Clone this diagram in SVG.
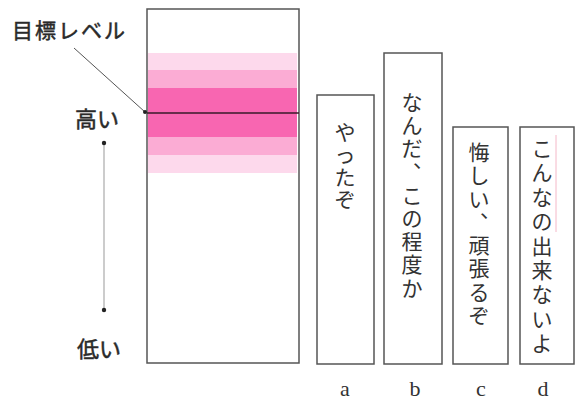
<svg xmlns="http://www.w3.org/2000/svg" width="576" height="403" viewBox="0 0 576 403">
<style>
.box{fill:#fff;stroke:#555;stroke-width:1.5}
.jp{font-family:"Noto Sans CJK JP","Noto Sans CJK SC",sans-serif;fill:#2a2a2a;stroke:#2a2a2a;stroke-width:0.5}
.vt{font-family:"Noto Sans CJK JP","Noto Sans CJK SC",sans-serif;fill:#333;font-size:21px;text-anchor:middle}
.lbl{font-family:"Liberation Serif",serif;font-size:22px;fill:#333;text-anchor:middle}
</style>
<rect width="576" height="403" fill="#fff"/>
<g id="main">
<rect class="box" x="147" y="9" width="152" height="354"/>
<rect x="148" y="53" width="149" height="120" fill="#fdd9ec"/>
<rect x="148" y="70" width="149" height="85" fill="#fbacd4"/>
<rect x="148" y="88" width="149" height="49" fill="#f866b1"/>
<line x1="147" y1="113" x2="299" y2="113" stroke="#3a1a2a" stroke-width="1.5"/>
</g>
<g id="connectors">
<line x1="74" y1="48" x2="145" y2="112" stroke="#555" stroke-width="1"/>
<circle cx="145" cy="112" r="2" fill="#222"/>
<line x1="104" y1="143" x2="104" y2="310" stroke="#999" stroke-width="1"/>
<circle cx="104" cy="143" r="2.2" fill="#222"/>
<circle cx="104" cy="310" r="2.2" fill="#222"/>
</g>
<g id="labels">
<text class="jp" x="12" y="38" font-size="21" letter-spacing="2">目標レベル</text>
<text class="jp" x="75" y="127" font-size="22">高い</text>
<text class="jp" x="77" y="357" font-size="22">低い</text>
</g>
<g id="a">
<rect class="box" x="317" y="95" width="57" height="269"/>
<text class="vt"><tspan x="345" y="139.5">や</tspan><tspan x="345" y="162">っ</tspan><tspan x="345" y="184.5">た</tspan><tspan x="345" y="207">ぞ</tspan></text>
<text class="lbl" x="345" y="396">a</text>
</g>
<g id="b">
<rect class="box" x="384" y="53" width="58" height="311"/>
<text class="vt"><tspan x="412" y="110">な</tspan><tspan x="412" y="133">ん</tspan><tspan x="412" y="156">だ</tspan><tspan x="423.5" y="167">、</tspan><tspan x="412" y="203">こ</tspan><tspan x="412" y="226">の</tspan><tspan x="412" y="249">程</tspan><tspan x="412" y="272">度</tspan><tspan x="412" y="296">か</tspan></text>
<text class="lbl" x="415" y="396">b</text>
</g>
<g id="c">
<rect class="box" x="453" y="127" width="55" height="237"/>
<text class="vt"><tspan x="479" y="160">悔</tspan><tspan x="479" y="183">し</tspan><tspan x="479" y="207">い</tspan><tspan x="490.5" y="217">、</tspan><tspan x="479" y="253">頑</tspan><tspan x="479" y="276">張</tspan><tspan x="479" y="300">る</tspan><tspan x="479" y="323">ぞ</tspan></text>
<text class="lbl" x="481" y="396">c</text>
</g>
<g id="d">
<rect class="box" x="520" y="127" width="54" height="237"/>
<line x1="556" y1="135" x2="556" y2="232" stroke="#f4b8c8" stroke-width="1"/>
<text class="vt"><tspan x="542" y="156">こ</tspan><tspan x="542" y="180">ん</tspan><tspan x="542" y="205">な</tspan><tspan x="542" y="229">の</tspan><tspan x="542" y="254">出</tspan><tspan x="542" y="278">来</tspan><tspan x="542" y="302">な</tspan><tspan x="542" y="327">い</tspan><tspan x="542" y="351">よ</tspan></text>
<text class="lbl" x="543" y="396">d</text>
</g>
</svg>
